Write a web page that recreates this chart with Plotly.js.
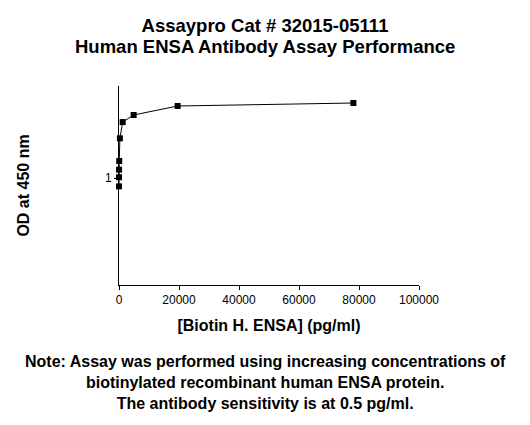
<!DOCTYPE html>
<html>
<head>
<meta charset="utf-8">
<script src="https://cdn.plot.ly/plotly-3.0.1.min.js"></script>
<style>html,body{margin:0;padding:0;background:#fff;}#chart{width:530px;height:425px;}</style>
</head>
<body>
<div id="chart"></div>
<script>
// Concentration of biotinylated ENSA (pg/ml)
const concentration = [1.2, 4.8, 19, 76, 305, 1221, 4883, 19531, 78125];
// OD at 450 nm
const od450 = [0.922, 1.007, 1.078, 1.159, 1.371, 1.523, 1.589, 1.673, 1.701];
const xTickVals = [0, 20000, 40000, 60000, 80000, 100000];
const yTickVals = [1];

const titleLine1 = "Assaypro Cat # 32015-05111";
const titleLine2 = "Human ENSA Antibody Assay Performance";
const noteText = "Note: Assay was performed using increasing concentrations of<br>biotinylated recombinant human ENSA protein.<br>The antibody sensitivity is at 0.5 pg/ml.";

const F = "Arial, 'Liberation Sans', sans-serif";
const titleFont = {family: F, size: 18.5, color: "#000", weight: "bold"};

const trace = {
  x: concentration,
  y: od450,
  type: "scatter",
  mode: "lines+markers",
  line: {color: "#000", width: 1},
  marker: {symbol: "square", size: 6, color: "#000"},
  showlegend: false,
  cliponaxis: false
};

const layout = {
  width: 530, height: 425,
  margin: {l: 119, r: 111, t: 86, b: 140, pad: 0},
  paper_bgcolor: "#fff", plot_bgcolor: "#fff",
  font: {family: F, color: "#000", size: 12},
  title: {
    text: titleLine1,
    font: titleFont,
    x: 0.5, xref: "container", xanchor: "center",
    y: 0.939, yref: "container", yanchor: "middle"
  },
  xaxis: {
    range: [0, 100000],
    tickvals: xTickVals,
    ticktext: xTickVals.map(String),
    showgrid: false, zeroline: false,
    showline: true, linecolor: "#000", linewidth: 1,
    ticks: "outside", ticklen: 4, tickcolor: "#000", tickwidth: 1,
    tickfont: {family: F, size: 12, color: "#000"},
    title: {text: "[Biotin H. ENSA] (pg/ml)", font: {family: F, size: 16, color: "#000", weight: "bold"}, standoff: 13},
    automargin: false
  },
  yaxis: {
    range: [0, 1.86],
    tickvals: yTickVals,
    ticktext: yTickVals.map(String),
    showgrid: false, zeroline: false,
    showline: true, linecolor: "#000", linewidth: 1,
    ticks: "outside", ticklen: 4, tickcolor: "#000", tickwidth: 1,
    tickfont: {family: F, size: 12, color: "#000"},
    title: {text: "OD at 450 nm", font: {family: F, size: 16, color: "#000", weight: "bold"}, standoff: 71},
    automargin: false
  },
  annotations: [{
    text: titleLine2,
    xref: "paper", yref: "paper",
    x: 0.487, y: 1.196, xanchor: "center", yanchor: "middle",
    showarrow: false,
    font: titleFont
  }, {
    text: noteText,
    xref: "paper", yref: "paper",
    x: 0.487, y: -0.33, xanchor: "center", yanchor: "top",
    showarrow: false, align: "center",
    font: {family: F, size: 16, color: "#000", weight: "bold"}
  }]
};

Plotly.newPlot("chart", [trace], layout, {staticPlot: true, displayModeBar: false});
</script>
</body>
</html>
